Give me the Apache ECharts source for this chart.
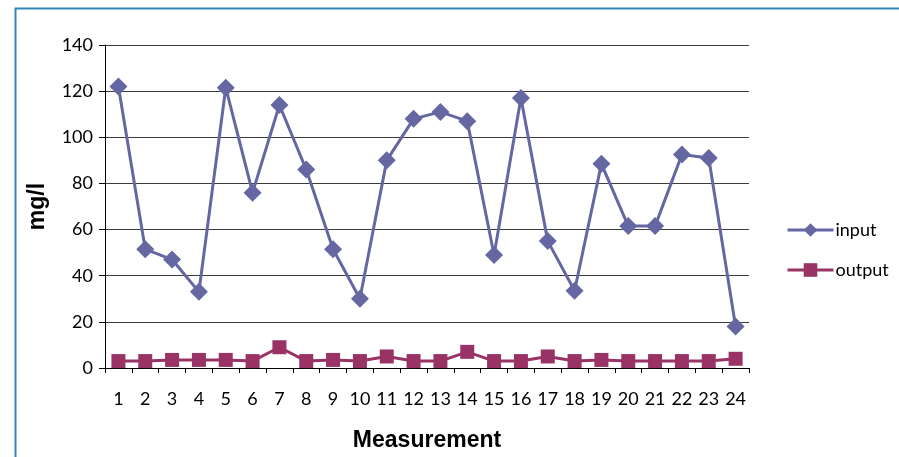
<!DOCTYPE html>
<html>
<head>
<meta charset="utf-8">
<script src="https://cdn.jsdelivr.net/npm/echarts@6/dist/echarts.min.js"></script>
<style>
  html, body { margin: 0; padding: 0; background: #fff; }
  #chart { width: 899px; height: 457px; }
</style>
</head>
<body>
<div id="chart"></div>
<script>
// Measurement numbers along the x axis
const measurements = ['1','2','3','4','5','6','7','8','9','10','11','12','13','14','15','16','17','18','19','20','21','22','23','24'];

// Concentration (mg/l) at the inlet
const inputValues = [122, 51.5, 47, 33, 121.5, 76, 114, 86, 51.5, 30, 90, 108, 111, 107, 49, 117, 55, 33.5, 88.5, 61.5, 61.5, 92.5, 91, 18];

// Concentration (mg/l) at the outlet
const outputValues = [3, 3, 3.5, 3.5, 3.5, 3, 9, 3, 3.5, 3, 5, 3, 3, 7, 3, 3, 5, 3, 3.5, 3, 3, 3, 3, 4];

const INPUT_COLOR = '#6567a3';
const OUTPUT_COLOR = '#993366';
const labelFont = 'Lato, "Open Sans", sans-serif';
const titleFont = '"Liberation Sans", Arial, sans-serif';

const chart = echarts.init(document.getElementById('chart'), null, { renderer: 'canvas' });

chart.setOption({
  animation: false,
  backgroundColor: '#ffffff',
  grid: { left: 105, right: 150, top: 45, bottom: 84, containLabel: false },
  graphic: [
    {
      type: 'polyline',
      shape: { points: [[15.5, 457], [15.5, 8.5], [899, 8.5]] },
      style: { stroke: '#2f88b2', lineWidth: 2, fill: null },
      silent: true
    }
  ],
  legend: {
    orient: 'vertical',
    left: 781,
    top: 216,
    itemWidth: 46,
    itemHeight: 17,
    itemGap: 22,
    lineStyle: { width: 3 },
    textStyle: { fontFamily: labelFont, fontSize: 18, color: '#000', padding: [0, 0, 0, -3] },
    data: ['input', 'output']
  },
  xAxis: {
    type: 'category',
    data: measurements,
    boundaryGap: true,
    name: 'Measurement',
    nameLocation: 'middle',
    nameGap: 61,
    nameTextStyle: { fontFamily: titleFont, fontWeight: 'bold', fontSize: 23, color: '#000' },
    axisLine: { lineStyle: { color: '#000', width: 1 } },
    axisTick: { show: true, length: 5, inside: false, alignWithLabel: false, lineStyle: { color: '#000' } },
    axisLabel: { fontFamily: labelFont, fontSize: 18, color: '#000', margin: 22, interval: 0 },
    splitLine: { show: false }
  },
  yAxis: {
    type: 'value',
    min: 0,
    max: 140,
    interval: 20,
    name: 'mg/l',
    nameLocation: 'middle',
    nameGap: 56,
    nameTextStyle: { fontFamily: titleFont, fontWeight: 'bold', fontSize: 23, color: '#000' },
    axisLine: { show: true, lineStyle: { color: '#000', width: 1 } },
    axisTick: { show: true, length: 6, inside: false, lineStyle: { color: '#000' } },
    axisLabel: { fontFamily: labelFont, fontSize: 18, color: '#000', margin: 12 },
    splitLine: { show: true, lineStyle: { color: '#3c3c3c', width: 1 } }
  },
  series: [
    {
      name: 'input',
      type: 'line',
      data: inputValues,
      symbol: 'diamond',
      symbolSize: 18,
      itemStyle: { color: INPUT_COLOR },
      lineStyle: { color: INPUT_COLOR, width: 3 },
      z: 3
    },
    {
      name: 'output',
      type: 'line',
      data: outputValues,
      symbol: 'rect',
      symbolSize: 14,
      itemStyle: { color: OUTPUT_COLOR },
      lineStyle: { color: OUTPUT_COLOR, width: 3 },
      z: 2
    }
  ]
});
</script>
</body>
</html>
